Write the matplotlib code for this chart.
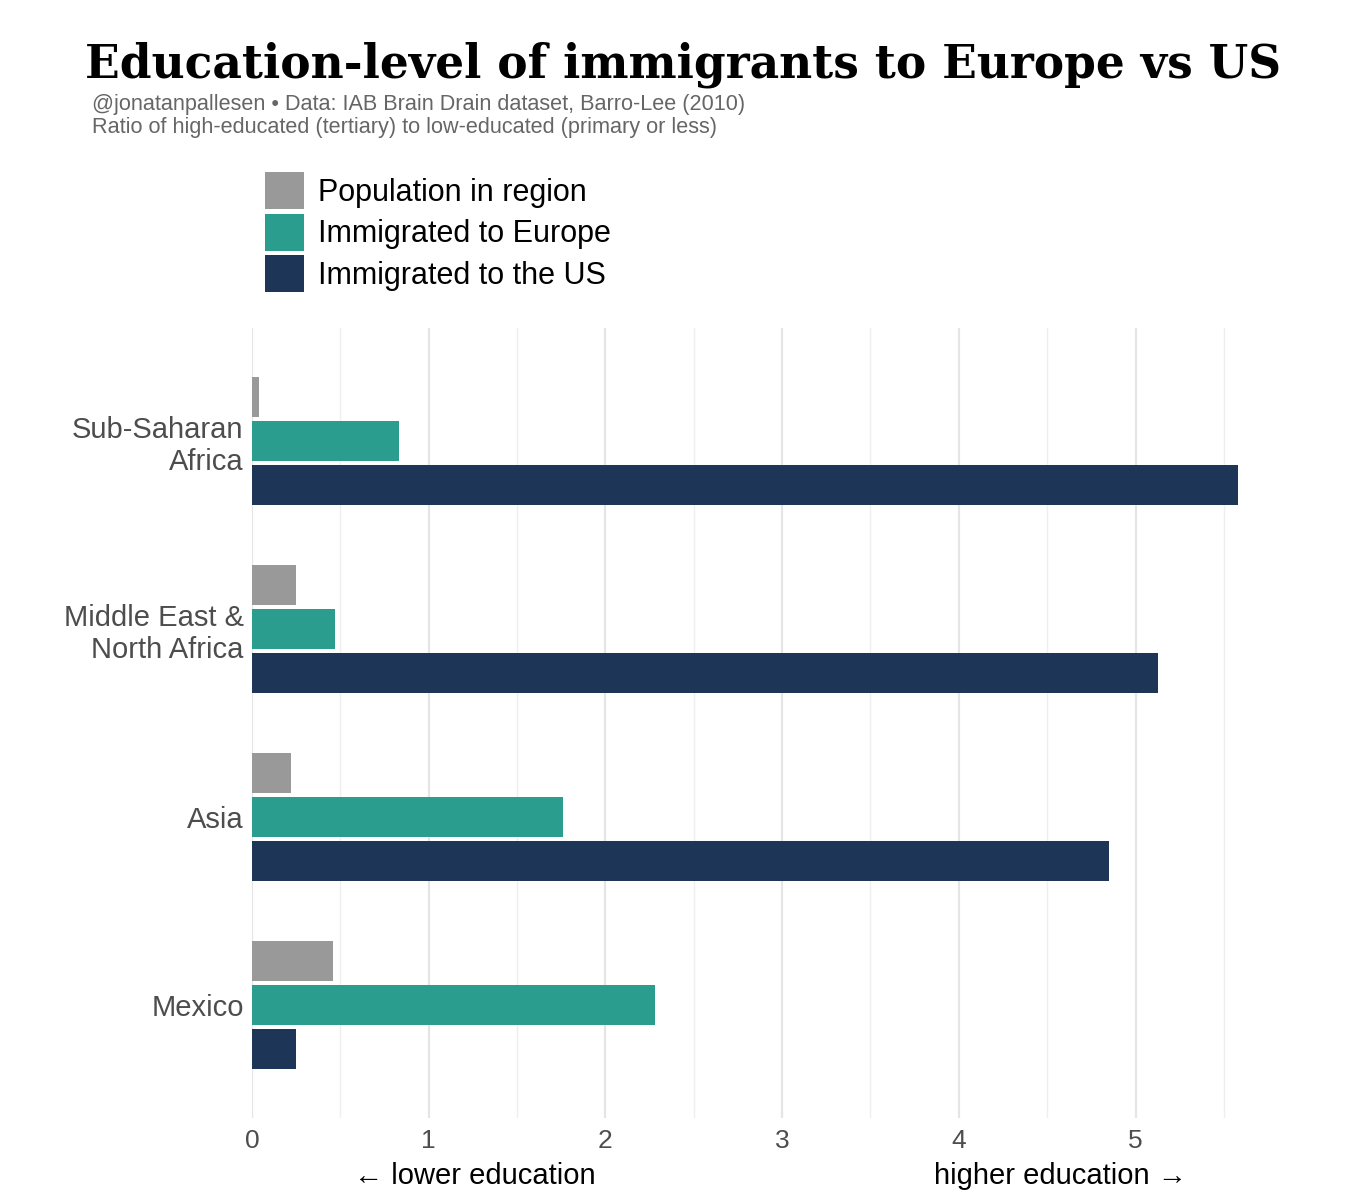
import matplotlib
matplotlib.use("Agg")
import matplotlib.pyplot as plt
import numpy as np

regions = ["Sub-Saharan\nAfrica", "Middle East &\nNorth Africa", "Asia", "Mexico"]
population = [0.04, 0.25, 0.22, 0.46]
europe = [0.83, 0.47, 1.76, 2.28]
us = [5.58, 5.13, 4.85, 0.25]

series_names = ["Population in region", "Immigrated to Europe", "Immigrated to the US"]
colors = ["#999999", "#2a9d8f", "#1d3557"]

plt.rcParams["font.family"] = ["Liberation Sans", "DejaVu Sans"]

fig = plt.figure(figsize=(13.5, 12), dpi=100)
ax = fig.add_axes([252 / 1350, 1 - 1118 / 1200, (1238 - 252) / 1350, (1118 - 328) / 1200])

ypos = np.arange(len(regions))[::-1] + 1.0
step = 0.234
height = 0.213
handles = []
for i, (vals, name, col) in enumerate(zip([population, europe, us], series_names, colors)):
    bars = ax.barh(ypos + step * (1 - i), vals, height=height, color=col, label=name, linewidth=0)
    handles.append(bars)

ax.set_xlim(0, 5.58)
ax.set_ylim(0.4, 4.6)
ax.set_yticks(ypos)
ax.set_yticklabels(regions, fontsize=21, color="#4d4d4d", linespacing=1.18)
ax.set_xticks([0, 1, 2, 3, 4, 5])
ax.set_xticks([0.5, 1.5, 2.5, 3.5, 4.5, 5.5], minor=True)
ax.tick_params(axis="x", which="major", length=0, labelsize=19, labelcolor="#4d4d4d", pad=8)
ax.tick_params(axis="x", which="minor", length=0)
ax.tick_params(axis="y", length=0, pad=6)
ax.grid(axis="x", which="major", color="#e5e5e5", linewidth=1.6)
ax.grid(axis="x", which="minor", color="#efefef", linewidth=1.0)
ax.set_axisbelow(True)
for s in ax.spines.values():
    s.set_visible(False)

fig.text(85 / 1350, 1 - 78 / 1200, "Education-level of immigrants to Europe vs US",
         family=["DejaVu Serif"], fontweight="bold", fontsize=32.8,
         ha="left", va="baseline", color="black")
fig.text(92 / 1350, 1 - 110 / 1200,
         "@jonatanpallesen \u2022 Data: IAB Brain Drain dataset, Barro-Lee (2010)",
         fontsize=15.6, color="#666666", ha="left", va="baseline")
fig.text(92 / 1350, 1 - 133 / 1200,
         "Ratio of high-educated (tertiary) to low-educated (primary or less)",
         fontsize=15.6, color="#666666", ha="left", va="baseline")

leg = ax.legend(handles=handles, loc="upper left",
                bbox_to_anchor=(265 / 1350, 1 - 172 / 1200), bbox_transform=fig.transFigure,
                frameon=False, fontsize=22, handlelength=1.28, handleheight=1.485,
                labelspacing=0.15, handletextpad=0.45, borderpad=0, borderaxespad=0)

fig.text(475 / 1350, 1 - 1184 / 1200, "\u2190 lower education", fontsize=21,
         color="black", ha="center", va="baseline")
fig.text(1060 / 1350, 1 - 1184 / 1200, "higher education \u2192", fontsize=21,
         color="black", ha="center", va="baseline")

fig.savefig("out.png", dpi=100, facecolor="white")
